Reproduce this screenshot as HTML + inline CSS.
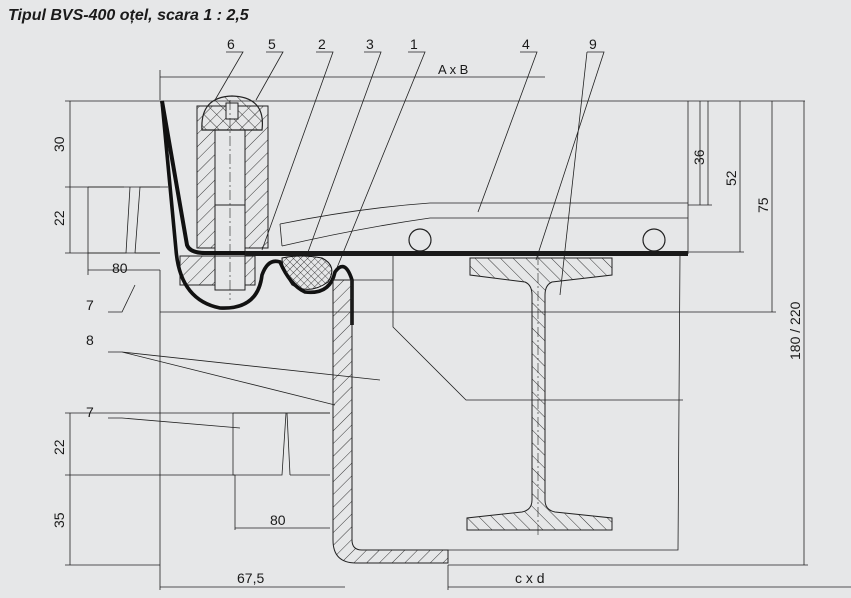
<!DOCTYPE html>
<html><head><meta charset="utf-8"><style>
html,body{margin:0;padding:0;background:#e6e7e8;}
svg{display:block}
text{font-family:"Liberation Sans",sans-serif;fill:#1a1a1a}
</style></head><body>
<svg width="851" height="598" viewBox="0 0 851 598" xmlns="http://www.w3.org/2000/svg">
<defs>
<pattern id="h" width="9" height="9" patternUnits="userSpaceOnUse" patternTransform="rotate(45)"><line x1="0" y1="0" x2="0" y2="9" stroke="#222" stroke-width="0.9"/></pattern>
<pattern id="h2" width="9" height="9" patternUnits="userSpaceOnUse" patternTransform="rotate(-45)"><line x1="0" y1="0" x2="0" y2="9" stroke="#222" stroke-width="0.9"/></pattern>
<pattern id="x" width="5" height="5" patternUnits="userSpaceOnUse" patternTransform="rotate(45)"><path d="M0 0V5M0 0H5" stroke="#222" stroke-width="0.8"/></pattern>
</defs>
<rect width="851" height="598" fill="#e6e7e8"/>
<text x="8" y="20" font-size="16" font-weight="bold" font-style="italic">Tipul BVS-400 oțel, scara 1 : 2,5</text>

<g stroke="#222" fill="none" stroke-width="0.8">
<!-- leader lines -->
<path d="M226 52H243L215 100M266 52H283L256 100M316 52H333L262 250M364 52H381L308 252M408 52H425L332 280M520 52H537L478 212M587 52H604L536 260M587 52L560 295"/>
<!-- A x B -->
<path d="M160 77H545M160 70V100"/>
<!-- top line -->
<path d="M65 101H805M700 101V205M688 101V254"/>
<!-- right dims -->
<path d="M708 101V205M740 101V252M772 101V312M804 101V565M688 205H712M688 252H744M160 312H776M448 565H808"/>
<!-- left dims -->
<path d="M70 101V253M65 187H160M65 253H160M88 253V275M88 270H160M160 270V590"/>
<path d="M70 413V565M65 413H330M65 475H235M65 565H160M235 475V530M235 528H330"/>
<path d="M160 587H345M448 565V590M448 587H851"/>
<!-- leaders 7/8 -->
<path d="M108 312H122L135 285M108 352H122L380 380M122 352L335 405M108 418H122L240 428"/>
<!-- block 7 top -->
<path d="M88 187H124M88 187V253H126L130 187M135 253L140 187H168M135 253H160"/>
<!-- block 7 bottom -->
<path d="M233 413V475H282L286 413H233M290 475L287 413H330M290 475H330"/>
<!-- right frame -->
<path d="M680 254L678 550H448M393 254V327L466 400H683M352 280H393M345 280H352"/>
<!-- top block (item 4 plate) -->
<path d="M280 224Q360 208 430 203H688M282 246Q360 228 430 218H688M280 224L282 246"/>
</g>

<!-- rails (balls) -->
<circle cx="420" cy="240" r="11" fill="#e6e7e8" stroke="#222" stroke-width="1.2"/>
<circle cx="654" cy="240" r="11" fill="#e6e7e8" stroke="#222" stroke-width="1.2"/>

<!-- thick bar -->
<rect x="245" y="251" width="443" height="5" fill="#1a1a1a"/>

<!-- bolt + sleeve -->
<path d="M197 106H268V248H197Z" fill="url(#h)" stroke="#222" stroke-width="1"/>
<path d="M215 130H245V290H215Z" fill="#e6e7e8" stroke="#222" stroke-width="1"/>
<path d="M215 205H245" stroke="#222"/>
<path d="M202 130Q200 97 232 96Q266 97 262 130Z" fill="url(#h2)" stroke="#222" stroke-width="1.2"/>
<rect x="226" y="103" width="12" height="16" fill="#e6e7e8" stroke="#222"/>
<!-- bottom plate -->
<path d="M180 256H255V285H180Z" fill="url(#h)" stroke="#222"/>
<rect x="215" y="256" width="30" height="34" fill="#e6e7e8" stroke="#222"/>
<path d="M230 100V300" stroke="#222" stroke-width="0.6" stroke-dasharray="10 3 2 3"/>

<!-- seal profile -->
<path d="M162 101L187 245Q190 253 205 253H245" fill="none" stroke="#111" stroke-width="4"/>
<path d="M162 101L176 250Q180 300 220 308Q258 310 262 275Q268 258 280 262Q290 285 305 292Q330 295 335 272Q345 258 352 280V325" fill="none" stroke="#111" stroke-width="3.6"/>
<path d="M282 258Q300 254 322 258Q338 266 328 282Q310 295 292 285Q282 270 282 258Z" fill="url(#x)" stroke="#111" stroke-width="1"/>

<!-- channel 8 -->
<path d="M333 280V540Q333 563 356 563H448V550H362Q352 550 352 540V280Z" fill="url(#h)" stroke="#222" stroke-width="1"/>

<!-- I-beam -->
<path d="M470 258H612V275L552 282Q545 285 545 295V500Q545 510 555 512L612 518V530H467V518L522 512Q532 510 532 500V295Q532 285 525 282L470 275Z" fill="url(#h2)" stroke="#222" stroke-width="1"/>
<path d="M538 255V535" stroke="#222" stroke-width="0.6" stroke-dasharray="10 3 2 3"/>

<g font-size="14">
<text x="227" y="49">6</text><text x="268" y="49">5</text><text x="318" y="49">2</text><text x="366" y="49">3</text><text x="410" y="49">1</text><text x="522" y="49">4</text><text x="589" y="49">9</text>
<text x="438" y="74" font-size="13">A x B</text>
<text x="112" y="273">80</text><text x="270" y="525">80</text><text x="237" y="583">67,5</text><text x="515" y="583">c x d</text>
<text x="86" y="310">7</text><text x="86" y="345">8</text><text x="86" y="417">7</text>
<text transform="translate(64,152) rotate(-90)">30</text>
<text transform="translate(64,226) rotate(-90)">22</text>
<text transform="translate(64,455) rotate(-90)">22</text>
<text transform="translate(64,528) rotate(-90)">35</text>
<text transform="translate(704,165) rotate(-90)">36</text>
<text transform="translate(736,186) rotate(-90)">52</text>
<text transform="translate(768,213) rotate(-90)">75</text>
<text transform="translate(800,360) rotate(-90)">180 / 220</text>
</g>
</svg>
</body></html>
